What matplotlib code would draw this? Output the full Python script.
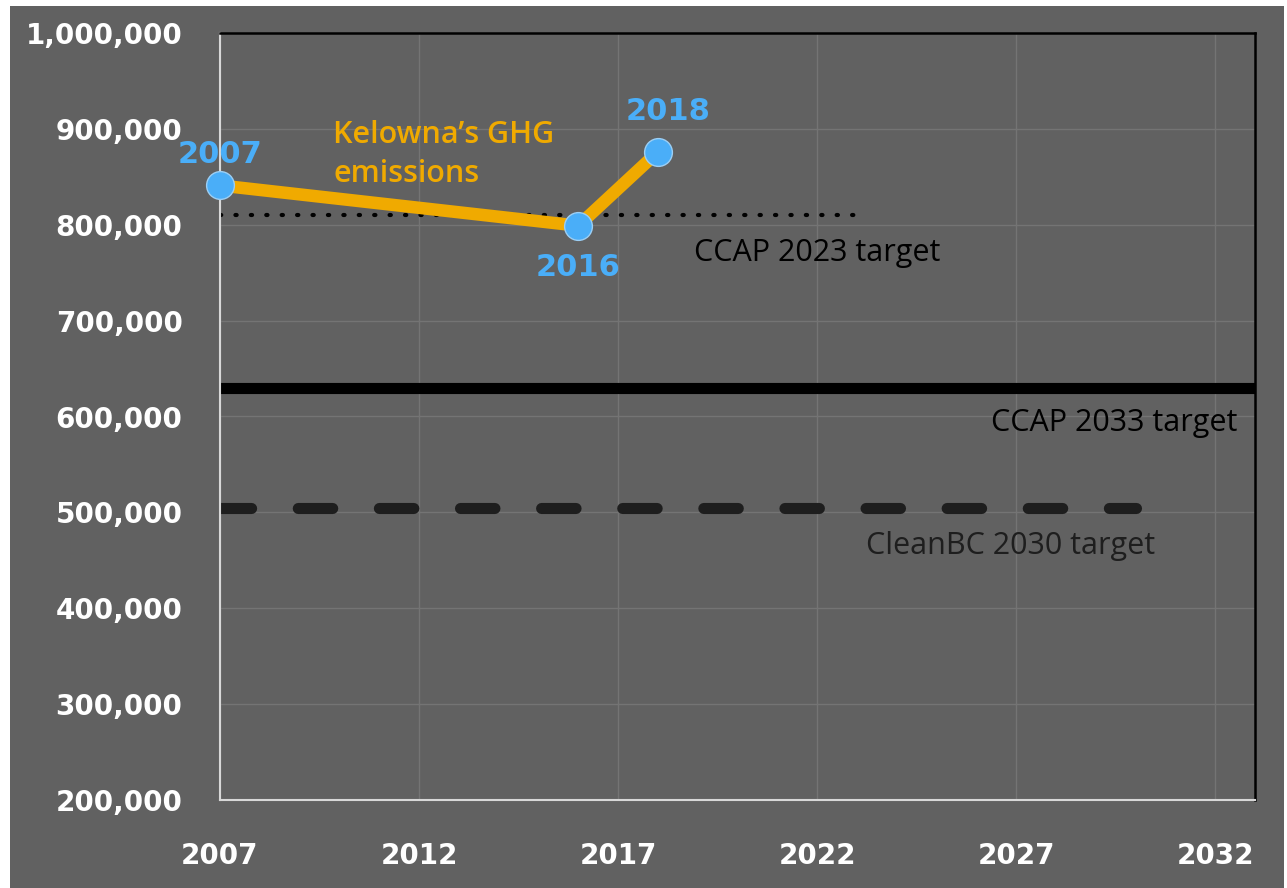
import matplotlib
matplotlib.use("Agg")
import matplotlib.pyplot as plt
from matplotlib.ticker import FuncFormatter, MultipleLocator

years = [2007, 2016, 2018]
emissions = [841000, 799000, 876000]
point_labels = ["2007", "2016", "2018"]

ccap2023_x = [2007, 2023]
ccap2023_y = [810000, 810000]
ccap2033_x = [2007, 2033]
ccap2033_y = [630000, 630000]
cleanbc_x = [2007, 2030]
cleanbc_y = [505000, 505000]

xticks = [2007, 2012, 2017, 2022, 2027, 2032]

BG = "#616161"
fig = plt.figure(figsize=(12.87, 8.88), dpi=100)
fig.patch.set_facecolor("white")
fig.add_artist(plt.Rectangle((10/1287, 0), (1284-10)/1287, (888-6)/888,
                             transform=fig.transFigure, facecolor=BG,
                             edgecolor="none", zorder=-10))
ax = fig.add_axes([220/1287, 1-800/888, (1255-220)/1287, (800-33)/888])
ax.set_facecolor(BG)

ax.set_xlim(2007, 2033)
ax.set_ylim(200000, 1000000)
ax.set_xticks(xticks)
ax.yaxis.set_major_locator(MultipleLocator(100000))
ax.yaxis.set_major_formatter(FuncFormatter(lambda v, p: f"{int(v):,}"))
ax.grid(True, color="#747474", linewidth=1)
ax.set_axisbelow(True)
ax.tick_params(length=0, labelcolor="white")
for lab in ax.get_xticklabels() + ax.get_yticklabels():
    lab.set_fontfamily("DejaVu Sans")
    lab.set_fontweight("bold")
    lab.set_fontsize(20)
ax.tick_params(axis="y", pad=27)
ax.tick_params(axis="x", pad=30)

for s in ["left", "bottom"]:
    ax.spines[s].set_color("#d8d8d8")
    ax.spines[s].set_linewidth(1.5)
for s in ["top", "right"]:
    ax.spines[s].set_color("black")
    ax.spines[s].set_linewidth(1.8)

ax.plot(ccap2023_x, ccap2023_y, color="black", linestyle=(0, (0.3, 3.4)),
        linewidth=3, dash_capstyle="round", zorder=2)
ax.plot(ccap2033_x, ccap2033_y, color="black", linewidth=8, zorder=2)
ax.plot(cleanbc_x, cleanbc_y, color="#1e1e1e", linestyle=(0.3, (3.1, 4.2)),
        linewidth=8, dash_capstyle="round", zorder=2)

ax.plot(years, emissions, color="#F0AA00", linewidth=9, zorder=3,
        solid_capstyle="round")
ax.plot(years, emissions, "o", color="#4AAEF8", markersize=20,
        markeredgecolor="#9ccff5", markeredgewidth=1, zorder=4, clip_on=False)

lab_font = dict(fontfamily="DejaVu Sans", fontweight="bold", fontsize=22,
                color="#4AAEF8")
ax.annotate(point_labels[0], (years[0], emissions[0]), xytext=(0, 22),
            textcoords="offset points", ha="center", va="center", **lab_font)
ax.annotate(point_labels[1], (years[1], emissions[1]), xytext=(0, -30),
            textcoords="offset points", ha="center", va="center", **lab_font)
ax.annotate(point_labels[2], (years[2], emissions[2]), xytext=(7, 29),
            textcoords="offset points", ha="center", va="center", **lab_font)

ax.text(2009.84, 873000, "Kelowna\u2019s GHG\nemissions", color="#F0AA00",
        fontfamily="Open Sans", fontweight="semibold", fontsize=22, ha="left",
        va="center", linespacing=1.4)
ax.text(2022.0, 771000, "CCAP 2023 target", color="black", fontfamily="Open Sans",
        fontsize=22, ha="center", va="center")
ax.text(2029.47, 593000, "CCAP 2033 target", color="black", fontfamily="Open Sans",
        fontsize=22, ha="center", va="center")
ax.text(2026.87, 465000, "CleanBC 2030 target", color="#1e1e1e",
        fontfamily="Open Sans", fontsize=22, ha="center", va="center")

fig.savefig("out.png", dpi=100, facecolor=fig.get_facecolor())
